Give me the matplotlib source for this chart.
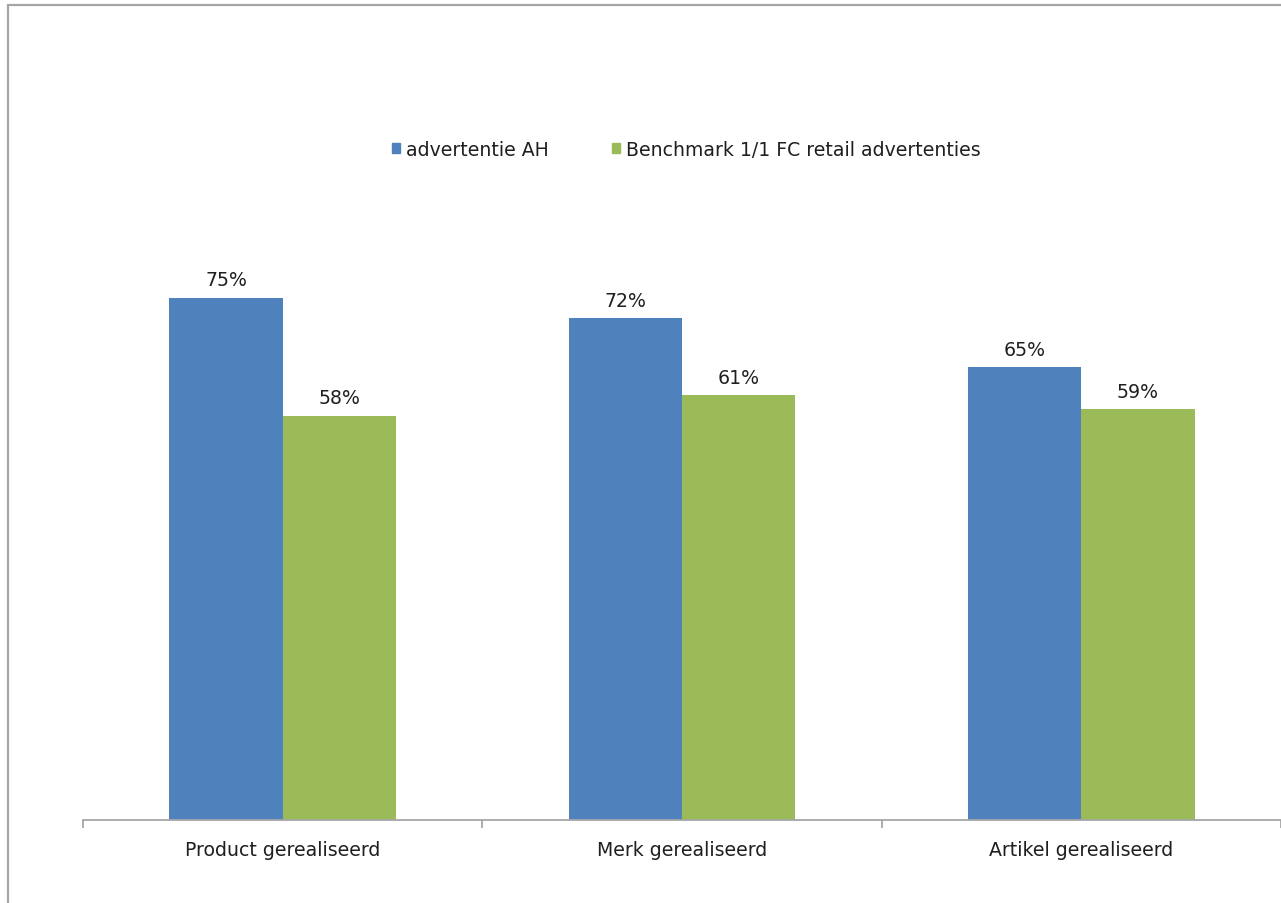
import matplotlib
matplotlib.use("Agg")
import matplotlib.pyplot as plt
import matplotlib.patches as mpatches
import numpy as np

categories = ["Product gerealiseerd", "Merk gerealiseerd", "Artikel gerealiseerd"]
series_names = ["advertentie AH", "Benchmark 1/1 FC retail advertenties"]
ah_values = [75, 72, 65]
benchmark_values = [58, 61, 59]
colors = ["#4F81BD", "#9BBB59"]

W, H = 1281, 904
fig = plt.figure(figsize=(W / 100, H / 100), dpi=100)
fig.patch.set_facecolor("white")

# outer chart frame (only top and left edges fall inside the image)
frame = mpatches.Rectangle((8 / W, -0.1), 1.2, (H - 6) / H + 0.1,
                           transform=fig.transFigure, fill=False,
                           edgecolor="#A6A6A6", linewidth=1.6)
fig.patches.append(frame)

ax_left = 83 / W
ax_bottom = (H - 820.5) / H
ax_height = 696 / H
ax = fig.add_axes([ax_left, ax_bottom, 1.0 - ax_left, ax_height])
ax.set_facecolor("none")

x = np.arange(len(categories))
bw = 0.284
text_color = "#1F1F1F"
fs = 13.6
for i, (vals, col) in enumerate(zip([ah_values, benchmark_values], colors)):
    pos = x + (i - 0.5) * bw
    ax.bar(pos, vals, width=bw, color=col, label=series_names[i], zorder=2)
    for p, v in zip(pos, vals):
        ax.text(p, v + 1.2, f"{v}%", ha="center", va="bottom",
                fontsize=fs, color=text_color)

ax.set_xlim(-0.5, len(categories) - 0.5)
ax.set_ylim(0, 100)
for s in ["top", "right", "left"]:
    ax.spines[s].set_visible(False)
ax.spines["bottom"].set_color("#A6A6A6")
ax.spines["bottom"].set_linewidth(1.3)
ax.set_yticks([])

ax.set_xticks(np.arange(len(categories) + 1) - 0.5, minor=False)
ax.set_xticklabels([])
ax.tick_params(axis="x", which="major", length=6, color="#A6A6A6", width=1.3)
ax.set_xticks(x, minor=True)
ax.set_xticklabels(categories, minor=True)
ax.tick_params(axis="x", which="minor", length=0, pad=15,
               labelsize=fs, labelcolor=text_color)

handles = [mpatches.Patch(color=c) for c in colors]
fig.legend(handles, series_names, loc="center", ncol=2,
           bbox_to_anchor=(686 / W, 1 - 150 / H), frameon=False,
           fontsize=fs, handlelength=0.45, handleheight=0.45,
           handletextpad=0.3, columnspacing=3.35, labelcolor=text_color)

fig.savefig("out.png", dpi=100, facecolor="white")
